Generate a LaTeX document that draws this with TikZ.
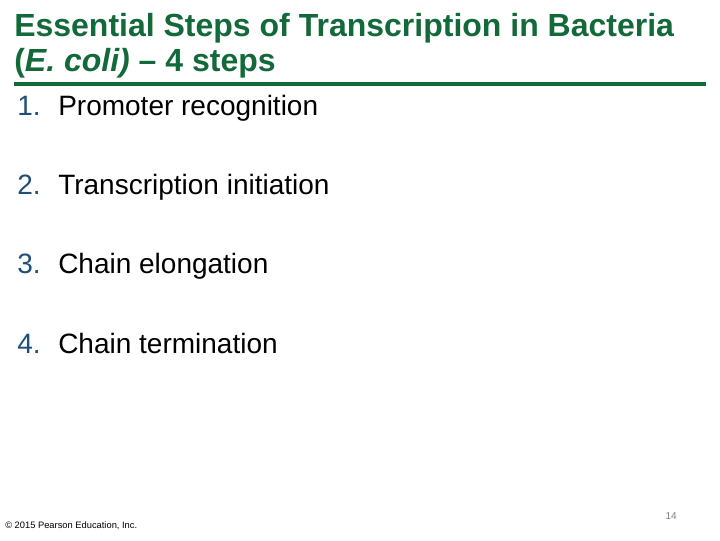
\documentclass[tikz,border=0pt]{standalone}
\usepackage{fontspec}
\setmainfont{Liberation Sans}
\definecolor{tgreen}{HTML}{14693A}
\definecolor{nblue}{HTML}{1F4E79}
\begin{document}
\begin{tikzpicture}[x=0.75pt,y=-0.75pt,
  title/.style={anchor=base west,inner sep=0,text=tgreen,font=\fontsize{24}{28}\selectfont\bfseries},
  num/.style={anchor=base west,inner sep=0,text=nblue,font=\fontsize{21}{25}\selectfont},
  item/.style={anchor=base west,inner sep=0,font=\fontsize{21}{25}\selectfont}]
\useasboundingbox (0,0) rectangle (720,540);
\node[title] (t1) at (14,36) {Essential Steps of Transcription in Bacteria};
\node[title] (t2) at (14,71) {(\textit{E. coli)} – 4 steps};
\coordinate (la) at (14,84); \coordinate (lb) at (706,84);
\draw[tgreen,line width=2.4pt] (la) -- (lb);
\foreach \n/\t/\y in {1/Promoter recognition/115,2/Transcription initiation/194,3/Chain elongation/273,4/Chain termination/353}{
  \node[num] (n\n) at (17,\y) {\n.};
  \node[item] (i\n) at (58,\y) {\t};
}
\node[anchor=base west,inner sep=0,font=\fontsize{7}{8}\selectfont] (c) at (5,528) {© 2015 Pearson Education, Inc.};
\node[anchor=base east,inner sep=0,text=gray,font=\fontsize{7.5}{9}\selectfont] (p) at (677,519) {14};
\end{tikzpicture}
\end{document}
